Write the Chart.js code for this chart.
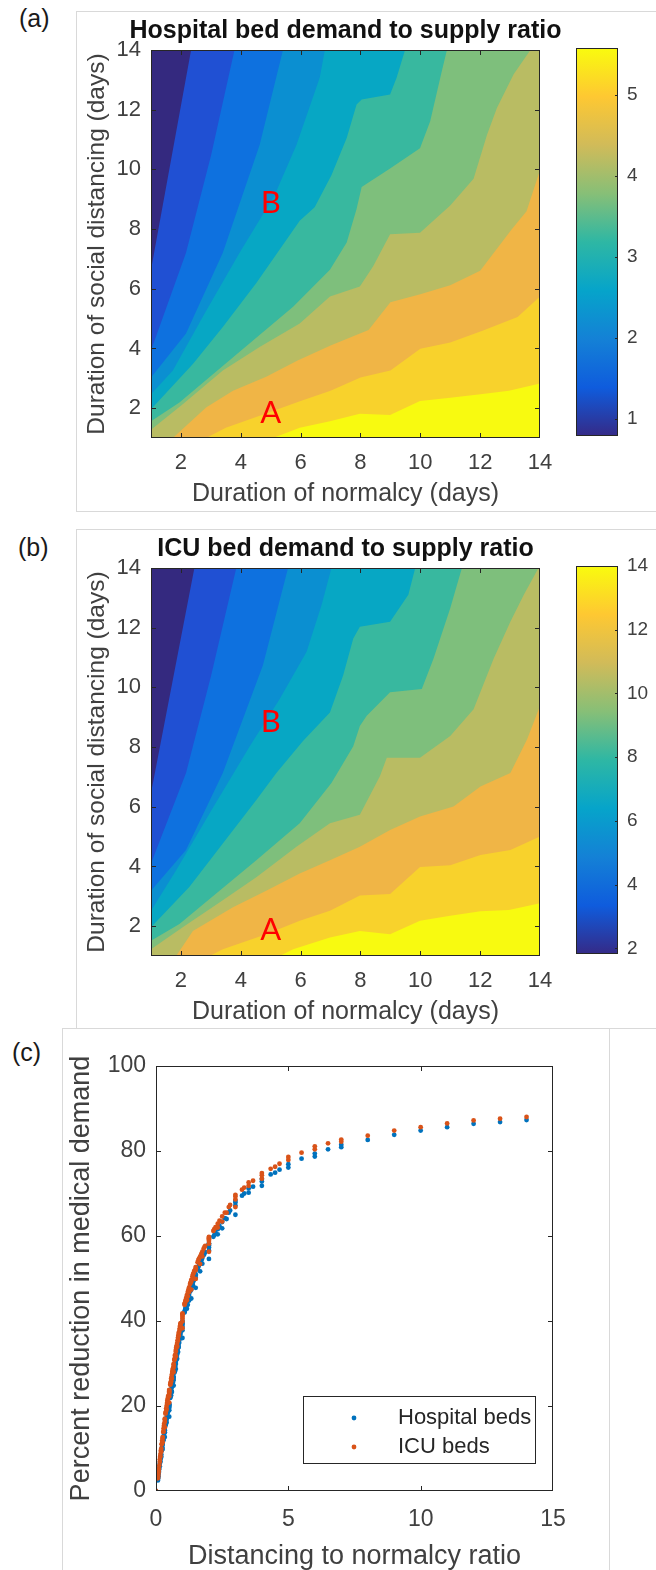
<!DOCTYPE html>
<html><head><meta charset="utf-8">
<script src="https://cdn.jsdelivr.net/npm/chart.js@4.4.1/dist/chart.umd.min.js"></script>
<style>
html,body{margin:0;padding:0;background:#fff;}
body{width:656px;height:1570px;position:relative;overflow:hidden;font-family:"Liberation Sans",Arial,sans-serif;}
canvas{position:absolute;}
.frame{position:absolute;border:1px solid #d9d9d9;box-sizing:border-box;}
.plabel{position:absolute;font-size:25px;line-height:25px;color:#1a1a1a;}
</style></head><body>
<div class="frame" style="left:76px;top:11px;width:700px;height:501px;"></div>
<div class="frame" style="left:76px;top:529px;width:700px;height:500px;"></div>
<div class="frame" style="left:62px;top:1028px;width:548px;height:600px;"></div>
<div class="plabel" style="left:19px;top:6px;">(a)</div>
<div class="plabel" style="left:18px;top:535px;">(b)</div>
<div class="plabel" style="left:12px;top:1040px;">(c)</div>
<canvas id="ca" width="656" height="520" style="left:0;top:0"></canvas>
<canvas id="cba" width="116" height="520" style="left:540px;top:0"></canvas>
<canvas id="cb" width="656" height="520" style="left:0;top:518px"></canvas>
<canvas id="cbb" width="116" height="520" style="left:540px;top:518px"></canvas>
<canvas id="cc" width="656" height="540" style="left:0;top:1030px"></canvas>
<script>
const FONT = '"Liberation Sans", Arial, Helvetica, sans-serif';
const TXT = '#404040';

// ---------- panels (a) and (b): grid, ticks, colour bands ----------
const gridMin = 1, gridMax = 14;
const axisTicks = [2, 4, 6, 8, 10, 12, 14];
const hospCbTicks = [1, 2, 3, 4, 5];
const hospCbRange = [0.79, 5.58];
const icuCbTicks = [2, 4, 6, 8, 10, 12, 14];
const icuCbRange = [1.82, 14.0];
const bandColors = ['#34297f', '#2050d3', '#0e71df', '#0b8fd1', '#07a7c4', '#38b89f', '#7ebf7c', '#b9bc63', '#f0b546', '#f8d22c', '#f8fa10'];
const parulaStops = ['#352a87', '#0f5cdd', '#1481d6', '#06a4ca', '#2eb7a4', '#87bf77', '#d1bb59', '#fec832', '#f9fb0e'];

// contour boundaries (normalcy days, distancing days), hospital ratio
const hospB1 = [[2.34,14],[1,6.64]];
const hospB2 = [[3.79,14],[3.01,10.48],[2.17,7.21],[1,3.93]];
const hospB3 = [[5.41,14],[4.63,10.82],[3.40,7.21],[2.17,4.50],[1,3.03]];
const hospB4 = [[6.81,14],[6.64,13.08],[5.86,10.82],[5.13,9.13],[3.96,7.21],[2.73,5.06],[1.73,3.26],[1,2.47]];
const hospB5 = [[9.49,14],[9.21,13.08],[8.99,12.51],[8.04,12.34],[7.87,12.17],[7.54,11.05],[7.03,9.80],[6.47,8.73],[5.97,8.28],[4.52,6.19],[3.40,4.72],[2.40,3.48],[1,1.96]];
const hospB6 = [[10.89,14],[10.72,13.30],[10.33,11.61],[9.99,10.71],[8.99,10.03],[8.04,9.41],[7.87,8.67],[7.54,7.55],[6.98,6.64],[5.75,5.40],[4.41,4.27],[3.07,3.14],[1.95,2.19],[1,1.56]];
const hospB7 = [[13.68,14],[13.12,13.19],[12.56,12.06],[12.23,11.16],[11.78,9.69],[11.0,8.79],[9.99,7.88],[8.99,7.83],[8.43,6.76],[7.98,6.08],[6.98,5.74],[5.97,4.84],[4.63,4.05],[3.40,3.26],[2.06,2.13],[1,1.28]];
const hospB8 = [[14,9.97],[13.55,8.6],[13.05,7.99],[12.0,6.6],[11.0,6.12],[10.0,5.82],[9.0,5.55],[8.27,4.62],[7.0,4.1],[5.9,3.6],[4.85,3.05],[3.74,2.58],[2.84,2.02],[1.73,1]];
const hospB9 = [[14,5.74],[13.25,5.05],[12.1,4.6],[11.0,4.2],[10.0,3.99],[9.0,3.26],[8.0,3.03],[7.0,2.58],[6.0,2.24],[4.75,1.79],[3.5,1.34],[2.84,1]];
const hospB10 = [[14,2.83],[12.96,2.58],[12.01,2.47],[11.0,2.35],[9.99,2.24],[8.99,1.77],[7.98,1.81],[6.98,1.56],[5.97,1.34],[5.08,1]];

// contour boundaries, ICU ratio
const icuB1 = [[2.45,14],[1,6.46]];
const icuB2 = [[3.85,14],[3.01,10.40],[2.17,7.13],[1,4.10]];
const icuB3 = [[5.58,14],[4.74,10.74],[3.40,7.13],[2.17,4.55],[1,3.19]];
const icuB4 = [[7.03,14],[6.70,12.76],[6.20,11.19],[5.30,9.61],[4.30,8.03],[2.96,5.78],[1.84,3.87],[1,2.52]];
const icuB5 = [[9.83,14],[9.60,13.10],[8.99,12.20],[7.98,12.03],[7.76,11.64],[7.42,10.40],[6.98,9.16],[6.08,8.20],[5.19,7.13],[4.52,6.23],[3.40,4.77],[2.28,3.31],[1,1.96]];
const icuB6 = [[11.39,14],[11.0,12.65],[10.44,10.96],[10.05,9.95],[8.99,9.84],[8.21,9.05],[7.98,8.71],[7.76,8.03],[7.03,6.80],[5.97,5.45],[4.52,4.21],[3.29,3.19],[1.95,2.07],[1,1.51]];
const icuB7 = [[13.95,14],[13.46,13.10],[13.01,12.20],[12.45,10.96],[11.78,9.27],[11.0,8.37],[9.99,7.64],[8.88,7.64],[8.65,7.02],[7.98,5.73],[6.98,5.45],[5.86,4.66],[4.52,3.64],[3.3,2.8],[2.06,1.96],[1,1.23]];
const icuB8 = [[14,9.38],[13.57,8.26],[13.01,7.13],[12.01,6.68],[11.11,6.01],[9.99,5.67],[8.99,5.22],[7.98,4.66],[6.98,4.21],[5.97,3.76],[4.85,3.19],[3.74,2.63],[2.40,1.84],[1.84,1]];
const icuB9 = [[14,5.0],[13.01,4.55],[12.01,4.38],[11.0,4.04],[9.99,3.98],[8.99,3.08],[7.98,3.03],[6.98,2.52],[5.97,2.18],[4.85,1.73],[3.40,1.23],[2.96,1]];
const icuB10 = [[14,2.77],[12.96,2.54],[12.01,2.50],[11.0,2.35],[9.99,2.18],[8.99,1.73],[7.98,1.84],[6.98,1.62],[5.75,1.23],[5.30,1]];

const markText = ['A', 'B'];
const hospMarkPos = [[5, 1.85], [5, 8.87]];
const icuMarkPos = [[5, 1.87], [5, 8.85]];

// ---------- panel (c) ----------
const cXTicks = [0, 5, 10, 15];
const cYTicks = [0, 20, 40, 60, 80, 100];
const ratioX = [0, 0.071, 0.077, 0.083, 0.091, 0.100, 0.111, 0.125, 0.143, 0.143,
 0.154, 0.167, 0.167, 0.182, 0.200, 0.200, 0.214, 0.222, 0.231, 0.250,
 0.250, 0.250, 0.273, 0.286, 0.286, 0.300, 0.308, 0.333, 0.333, 0.333,
 0.333, 0.357, 0.364, 0.375, 0.385, 0.400, 0.400, 0.417, 0.429, 0.429,
 0.444, 0.455, 0.462, 0.500, 0.500, 0.500, 0.500, 0.500, 0.500, 0.500,
 0.538, 0.545, 0.556, 0.571, 0.571, 0.583, 0.600, 0.600, 0.615, 0.625,
 0.636, 0.643, 0.667, 0.667, 0.667, 0.667, 0.692, 0.700, 0.714, 0.714,
 0.727, 0.750, 0.750, 0.750, 0.769, 0.778, 0.786, 0.800, 0.800, 0.818,
 0.833, 0.833, 0.846, 0.857, 0.857, 0.875, 0.889, 0.900, 0.909, 0.917,
 0.923, 0.929, 1, 1, 1, 1, 1, 1, 1, 1.077,
 1.083, 1.091, 1.100, 1.111, 1.125, 1.143, 1.167, 1.167, 1.200, 1.200,
 1.222, 1.250, 1.250, 1.286, 1.300, 1.333, 1.333, 1.333, 1.375, 1.400,
 1.400, 1.429, 1.444, 1.500, 1.500, 1.500, 1.500, 1.571, 1.600, 1.625,
 1.667, 1.667, 1.714, 1.750, 1.750, 1.800, 1.833, 1.857, 2, 2,
 2, 2, 2, 2, 2, 2.167, 2.200, 2.250, 2.333, 2.333,
 2.400, 2.500, 2.500, 2.600, 2.667, 2.750, 2.800, 3, 3, 3,
 3, 3.250, 3.333, 3.500, 3.500, 3.667, 4, 4, 4, 4.333,
 4.500, 4.667, 5, 5, 5.500, 6, 6, 6.500, 7, 7,
 8, 9, 10, 11, 12, 13, 14];
const hospPct = [0, 2.5, 2.8, 3.1, 3.5, 4.0, 4.5, 5.2, 5.8, 6.4,
 6.9, 6.9, 7.5, 8.2, 8.0, 8.6, 9.5, 9.6, 10.3, 9.9,
 10.8, 11.1, 12.0, 12.0, 12.7, 13.2, 13.6, 12.7, 13.8, 14.3,
 14.6, 15.4, 15.6, 15.8, 16.5, 16.1, 16.9, 17.6, 17.4, 18.2,
 18.5, 18.9, 19.2, 17.5, 19.0, 19.6, 19.9, 20.2, 20.4, 20.5,
 21.9, 22.1, 22.4, 22.5, 23.3, 23.7, 23.3, 24.4, 25.0, 25.1,
 25.6, 26.0, 24.8, 26.1, 26.6, 26.9, 27.8, 28.0, 28.2, 28.9,
 29.3, 28.7, 29.9, 30.4, 31.0, 31.1, 31.6, 31.1, 32.1, 32.9,
 32.7, 33.6, 34.1, 33.9, 34.7, 34.9, 35.6, 36.0, 36.5, 36.8,
 37.2, 37.5, 36.0, 37.8, 38.6, 39.1, 39.5, 39.8, 40.0, 42.0,
 42.2, 42.4, 42.6, 42.9, 43.2, 43.7, 42.9, 44.3, 43.8, 45.0,
 45.5, 44.8, 46.1, 46.9, 47.2, 45.3, 47.4, 47.9, 48.7, 48.3,
 49.2, 49.6, 50.0, 47.8, 50.2, 50.7, 51.0, 52.2, 52.7, 53.1,
 51.7, 53.6, 54.3, 53.5, 54.8, 55.5, 55.9, 56.2, 54.6, 56.6,
 57.3, 57.7, 57.9, 58.1, 58.3, 59.8, 60.2, 60.8, 60.4, 61.6,
 62.3, 61.8, 63.3, 64.2, 64.0, 65.5, 66.0, 65.0, 67.2, 67.9,
 68.3, 69.5, 70.0, 70.2, 71.2, 71.6, 71.8, 72.8, 73.4, 74.5,
 74.9, 75.6, 76.1, 76.9, 78.2, 78.7, 79.4, 80.4, 80.9, 81.5,
 82.6, 83.8, 84.8, 85.6, 86.4, 86.8, 87.3];
const icuPct = [0, 3.0, 3.3, 3.6, 4.1, 4.6, 5.2, 6.0, 6.8, 7.4,
 8.0, 8.1, 8.7, 9.5, 9.3, 10.0, 11.0, 11.1, 11.8, 11.5,
 12.4, 12.7, 13.9, 14.0, 14.7, 15.3, 15.8, 15.0, 16.3, 16.8,
 17.0, 18.2, 18.4, 18.7, 19.4, 19.2, 20.0, 20.7, 20.6, 21.3,
 21.7, 22.1, 22.4, 20.8, 22.3, 22.9, 23.2, 23.4, 23.6, 23.8,
 25.0, 25.2, 25.6, 25.8, 26.4, 26.8, 26.5, 27.4, 28.0, 28.2,
 28.6, 28.9, 28.0, 29.2, 29.7, 29.9, 30.8, 31.0, 31.2, 31.8,
 32.1, 31.7, 32.8, 33.2, 33.8, 33.9, 34.3, 34.0, 34.8, 35.5,
 35.4, 36.1, 36.6, 36.6, 37.2, 37.4, 37.9, 38.3, 38.7, 39.0,
 39.3, 39.5, 38.3, 39.9, 40.6, 41.0, 41.4, 41.6, 41.8, 43.8,
 44.0, 44.2, 44.4, 44.7, 45.0, 45.5, 44.9, 46.1, 45.8, 46.8,
 47.3, 46.8, 47.9, 48.7, 49.0, 47.4, 49.3, 49.7, 50.5, 50.1,
 51.0, 51.4, 51.8, 49.9, 52.0, 52.4, 52.7, 53.8, 54.3, 54.7,
 53.4, 55.2, 55.8, 55.2, 56.3, 57.0, 57.4, 57.7, 56.3, 58.2,
 58.8, 59.2, 59.4, 59.6, 59.8, 61.2, 61.6, 62.1, 62.0, 62.9,
 63.6, 63.4, 64.6, 65.5, 65.5, 66.8, 67.3, 66.8, 68.6, 69.3,
 69.7, 70.9, 71.4, 71.8, 72.6, 73.0, 73.5, 74.3, 74.8, 75.8,
 76.3, 77.0, 77.9, 78.6, 79.6, 80.4, 81.1, 81.8, 82.2, 82.7,
 83.6, 84.8, 85.6, 86.5, 87.2, 87.6, 88.0];

// ---------- plugins ----------
const matlabAxes = {
  id: 'matlabAxes',
  afterDatasetsDraw(chart, args, o) {
    const {ctx, chartArea: a} = chart;
    ctx.save();
    ctx.strokeStyle = o.color || '#262626';
    ctx.lineWidth = 1;
    ctx.beginPath();
    const xs = chart.scales.x, ys = chart.scales.y;
    if (o.xTicks) {
      xs.ticks.forEach(t => {
        const p = Math.round(xs.getPixelForValue(t.value)) + 0.5;
        if (p < a.left + 2 || p > a.right - 2) return;
        ctx.moveTo(p, a.bottom); ctx.lineTo(p, a.bottom - o.len);
        ctx.moveTo(p, a.top); ctx.lineTo(p, a.top + o.len);
      });
    }
    ys.ticks.forEach(t => {
      const p = Math.round(ys.getPixelForValue(t.value)) + 0.5;
      if (p < a.top + 2 || p > a.bottom - 2) return;
      if (o.left) { ctx.moveTo(a.left, p); ctx.lineTo(a.left + o.len, p); }
      if (o.right) { ctx.moveTo(a.right, p); ctx.lineTo(a.right - o.len, p); }
    });
    ctx.stroke();
    ctx.strokeRect(a.left + 0.5, a.top + 0.5, a.right - a.left - 1, a.bottom - a.top - 1);
    ctx.restore();
  }
};
const redMarks = {
  id: 'redMarks',
  afterDatasetsDraw(chart, args, o) {
    const {ctx, scales: {x, y}} = chart;
    ctx.save();
    ctx.fillStyle = '#ff0000';
    ctx.font = '31px Lato, "Liberation Sans", sans-serif';
    ctx.textAlign = 'center';
    ctx.textBaseline = 'middle';
    o.pos.forEach((p, i) => ctx.fillText(markText[i], x.getPixelForValue(p[0]), y.getPixelForValue(p[1])));
    ctx.restore();
  }
};
const panelTitle = {
  id: 'panelTitle',
  afterDraw(chart, args, o) {
    const {ctx, chartArea: a} = chart;
    ctx.save();
    ctx.font = 'bold 25px ' + FONT;
    ctx.fillStyle = '#111';
    ctx.textAlign = 'center';
    ctx.textBaseline = 'middle';
    ctx.fillText(o.text, (a.left + a.right) / 2, a.top - 19);
    ctx.restore();
  }
};
const boxLegend = {
  id: 'boxLegend',
  afterDraw(chart, args, o) {
    const {ctx, chartArea: a} = chart;
    const L = a.left + o.dx, T = a.top + o.dy;
    ctx.save();
    ctx.fillStyle = '#fff';
    ctx.fillRect(L, T, o.w, o.h);
    ctx.strokeStyle = '#262626';
    ctx.lineWidth = 1;
    ctx.strokeRect(L + 0.5, T + 0.5, o.w, o.h);
    ctx.font = '22px ' + FONT;
    ctx.textBaseline = 'middle';
    ctx.textAlign = 'left';
    chart.data.datasets.forEach((ds, i) => {
      const cy = T + o.rowY[i];
      ctx.fillStyle = ds.backgroundColor;
      ctx.beginPath(); ctx.arc(L + o.markX, cy, 2.4, 0, Math.PI * 2); ctx.fill();
      ctx.fillStyle = '#262626';
      ctx.fillText(ds.label, L + o.textX, cy);
    });
    ctx.restore();
  }
};

// ---------- builders ----------
function regionData(b) {
  const pts = b.map(p => ({x: p[0], y: p[1]}));
  const first = b[0], last = b[b.length - 1];
  if (last[0] === gridMin) pts.push({x: gridMin, y: gridMin});
  pts.push({x: gridMax, y: gridMin});
  if (first[1] === gridMax) pts.push({x: gridMax, y: gridMax});
  return pts;
}
function contourDatasets(bounds) {
  const full = [{x: gridMin, y: gridMin}, {x: gridMin, y: gridMax}, {x: gridMax, y: gridMax}, {x: gridMax, y: gridMin}];
  const regions = [full].concat(bounds.map(regionData));
  return regions.map((pts, k) => ({
    data: pts, backgroundColor: bandColors[k], borderColor: bandColors[k],
    borderWidth: 0, pointRadius: 0, fill: 'shape', tension: 0,
    order: regions.length - 1 - k
  }));
}
const setTicks = arr => s => { s.ticks = arr.map(v => ({value: v})); };
const tickFont = size => ({family: FONT, size: size, lineHeight: 1});
const noGrid = {display: false, drawTicks: false};

function contourChart(id, title, bounds, markPos) {
  return new Chart(document.getElementById(id), {
    type: 'line',
    data: {datasets: contourDatasets(bounds)},
    options: {
      responsive: false, animation: false, events: [], devicePixelRatio: 1,
      layout: {padding: {top: 50, left: 0, right: 116, bottom: 0}},
      plugins: {
        legend: {display: false}, tooltip: {enabled: false},
        panelTitle: {text: title},
        matlabAxes: {xTicks: true, left: true, right: true, len: 5},
        redMarks: {pos: markPos}
      },
      scales: {
        x: {type: 'linear', min: gridMin, max: gridMax, afterBuildTicks: setTicks(axisTicks),
          afterFit: s => { s.height = 82; },
          grid: noGrid, border: {display: false},
          ticks: {color: TXT, font: tickFont(22), padding: 14, maxRotation: 0, autoSkip: false},
          title: {display: true, text: 'Duration of normalcy (days)', color: TXT,
            font: {family: FONT, size: 25, lineHeight: 1}, padding: {top: 0, bottom: 13}}},
        y: {type: 'linear', min: gridMin, max: gridMax, afterBuildTicks: setTicks(axisTicks),
          afterFit: s => { s.width = 151; },
          grid: noGrid, border: {display: false},
          ticks: {color: TXT, font: tickFont(22), padding: 10, autoSkip: false},
          title: {display: true, text: 'Duration of social distancing (days)', color: TXT,
            font: {family: FONT, size: 24.5, lineHeight: 1}, padding: {top: 85, bottom: 0}}}
      }
    },
    plugins: [matlabAxes, redMarks, panelTitle]
  });
}

function colorbarChart(id, range, ticks) {
  return new Chart(document.getElementById(id), {
    type: 'bar',
    data: {labels: [''], datasets: [{
      data: [[range[0], range[1]]],
      backgroundColor: c => {
        const ch = c.chart, a = ch.chartArea;
        if (!a) return parulaStops[0];
        const ys = ch.scales.y;
        const g = ch.ctx.createLinearGradient(0, ys.getPixelForValue(range[0]), 0, ys.getPixelForValue(range[1]));
        parulaStops.forEach((col, i) => g.addColorStop(i / (parulaStops.length - 1), col));
        return g;
      },
      borderWidth: 0, barPercentage: 1, categoryPercentage: 1
    }]},
    options: {
      responsive: false, animation: false, events: [], devicePixelRatio: 1,
      layout: {padding: {top: 48, left: 36, right: 0, bottom: 84}},
      plugins: {legend: {display: false}, tooltip: {enabled: false},
        matlabAxes: {xTicks: false, left: false, right: true, len: 3}},
      scales: {
        x: {display: false},
        y: {type: 'linear', position: 'right', min: range[0], max: range[1],
          afterBuildTicks: setTicks(ticks), afterFit: s => { s.width = 38; },
          grid: noGrid, border: {display: false},
          ticks: {color: TXT, font: tickFont(19), padding: 9, autoSkip: false}}
      }
    },
    plugins: [matlabAxes]
  });
}

Chart.defaults.font.family = FONT;

contourChart('ca', 'Hospital bed demand to supply ratio',
  [hospB1, hospB2, hospB3, hospB4, hospB5, hospB6, hospB7, hospB8, hospB9, hospB10], hospMarkPos);
colorbarChart('cba', hospCbRange, hospCbTicks);
contourChart('cb', 'ICU bed demand to supply ratio',
  [icuB1, icuB2, icuB3, icuB4, icuB5, icuB6, icuB7, icuB8, icuB9, icuB10], icuMarkPos);
colorbarChart('cbb', icuCbRange, icuCbTicks);

new Chart(document.getElementById('cc'), {
  type: 'scatter',
  data: {datasets: [
    {label: 'Hospital beds', data: ratioX.map((x, i) => ({x: x, y: hospPct[i]})),
      backgroundColor: '#0072bd', borderWidth: 0, pointRadius: 2.4, order: 1},
    {label: 'ICU beds', data: ratioX.map((x, i) => ({x: x, y: icuPct[i]})),
      backgroundColor: '#d95319', borderWidth: 0, pointRadius: 2.4, order: 0}
  ]},
  options: {
    responsive: false, animation: false, events: [], devicePixelRatio: 1,
    layout: {padding: {top: 36, left: 0, right: 103, bottom: 0}},
    plugins: {legend: {display: false}, tooltip: {enabled: false},
      matlabAxes: {xTicks: true, left: true, right: true, len: 5},
      boxLegend: {dx: 147, dy: 330, w: 232, h: 67, markX: 51, textX: 95, rowY: [22, 51]}},
    scales: {
      x: {type: 'linear', min: 0, max: 15, afterBuildTicks: setTicks(cXTicks),
        afterFit: s => { s.height = 79; },
        grid: noGrid, border: {display: false},
        ticks: {color: TXT, font: tickFont(23), padding: 17.5, maxRotation: 0, autoSkip: false},
        title: {display: true, text: 'Distancing to normalcy ratio', color: TXT,
          font: {family: FONT, size: 27, lineHeight: 1}, padding: {top: 0, bottom: 0}}},
      y: {type: 'linear', min: 0, max: 100, afterBuildTicks: setTicks(cYTicks),
        afterFit: s => { s.width = 156; },
        grid: noGrid, border: {display: false},
        ticks: {color: TXT, font: tickFont(23), padding: 10, autoSkip: false},
        title: {display: true, text: 'Percent reduction in medical demand', color: TXT,
          font: {family: FONT, size: 27, lineHeight: 1}, padding: {top: 68.5, bottom: 0}}}
    }
  },
  plugins: [matlabAxes, boxLegend]
});
</script>
</body></html>
